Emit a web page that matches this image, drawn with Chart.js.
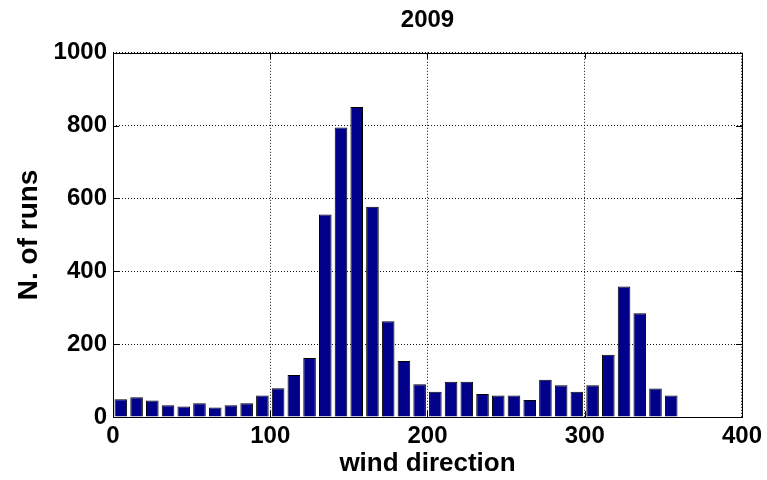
<!DOCTYPE html>
<html>
<head>
<meta charset="utf-8">
<script src="https://cdn.jsdelivr.net/npm/chart.js@4/dist/chart.umd.min.js"></script>
<style>
  html, body { margin: 0; padding: 0; background: #ffffff; }
  #wrap { width: 767px; height: 480px; }
</style>
</head>
<body>
<div id="wrap"><canvas id="chart" width="767" height="480"></canvas></div>
<script>
// Wind direction histogram for 2009: bin centres (degrees) and run counts
const directions = [5, 15, 25, 35, 45, 55, 65, 75, 85, 95,
                    105, 115, 125, 135, 145, 155, 165, 175, 185, 195,
                    205, 215, 225, 235, 245, 255, 265, 275, 285, 295,
                    305, 315, 325, 335, 345, 355];
const runs = [49, 54, 45, 32, 29, 38, 26, 32, 38, 59,
              79, 115, 162, 556, 795, 851, 577, 263, 154, 90,
              69, 97, 97, 63, 59, 59, 47, 102, 87, 69,
              87, 171, 358, 285, 78, 59];
const xTicks = [0, 100, 200, 300, 400];
const yTicks = [0, 200, 400, 600, 800, 1000];

const titleText = '2009';
const xLabel = 'wind direction';
const yLabel = 'N. of runs';

const FONT = "'Liberation Sans', Arial, Helvetica, sans-serif";

// Box around the axes plus short inward tick marks on all four sides
const boxAndTicks = {
  id: 'boxAndTicks',
  afterDatasetsDraw(chart) {
    const { ctx, chartArea: a, scales: { x, y } } = chart;
    const len = 6;
    ctx.save();
    ctx.strokeStyle = '#000';
    ctx.lineWidth = 1;
    ctx.beginPath();
    xTicks.forEach(v => {
      const px = Math.round(x.getPixelForValue(v)) + 0.5;
      ctx.moveTo(px, a.bottom); ctx.lineTo(px, a.bottom - len);
      ctx.moveTo(px, a.top); ctx.lineTo(px, a.top + len);
    });
    yTicks.forEach(v => {
      const py = Math.round(y.getPixelForValue(v)) + 0.5;
      ctx.moveTo(a.left, py); ctx.lineTo(a.left + len, py);
      ctx.moveTo(a.right, py); ctx.lineTo(a.right - len, py);
    });
    ctx.stroke();
    ctx.strokeRect(Math.round(a.left) + 0.5, Math.round(a.top) + 0.5,
                   Math.round(a.right - a.left), Math.round(a.bottom - a.top));
    ctx.restore();
  }
};

new Chart(document.getElementById('chart'), {
  type: 'bar',
  data: {
    datasets: [{
      data: directions.map((d, i) => ({ x: d, y: runs[i] })),
      backgroundColor: '#00008a',
      borderColor: '#000000',
      borderWidth: 1,
      barPercentage: 0.8,
      categoryPercentage: 1.0
    }]
  },
  options: {
    responsive: false,
    animation: false,
    layout: { padding: { left: 0, right: 25, top: 0, bottom: 0 } },
    plugins: {
      legend: { display: false },
      tooltip: { enabled: false },
      title: {
        display: true,
        fullSize: false,
        text: titleText,
        color: '#000',
        font: { family: FONT, size: 24, weight: 'bold' },
        padding: { top: 6, bottom: 18 }
      }
    },
    scales: {
      x: {
        type: 'linear',
        min: 0,
        max: 400,
        offset: false,
        afterFit(scale) { scale.height = 63; },
        afterBuildTicks(scale) { scale.ticks = xTicks.map(v => ({ value: v })); },
        grid: {
          offset: false,
          drawTicks: false,
          color: '#111',
          lineWidth: 1
        },
        border: { display: false, dash: [1, 2] },
        ticks: {
          color: '#000',
          padding: 5,
          maxRotation: 0,
          callback: v => String(v),
          font: { family: FONT, size: 24, weight: 'bold' }
        },
        title: {
          display: true,
          text: xLabel,
          color: '#000',
          font: { family: FONT, size: 26, weight: 'bold' },
          padding: { top: 0, bottom: 1 }
        }
      },
      y: {
        type: 'linear',
        min: 0,
        max: 1000,
        afterFit(scale) { scale.width = 113; },
        afterBuildTicks(scale) { scale.ticks = yTicks.map(v => ({ value: v })); },
        grid: {
          drawTicks: false,
          color: '#111',
          lineWidth: 1
        },
        border: { display: false, dash: [1, 2] },
        ticks: {
          color: '#000',
          padding: 6,
          callback: v => String(v),
          font: { family: FONT, size: 24, weight: 'bold' }
        },
        title: {
          display: true,
          text: yLabel,
          color: '#000',
          font: { family: FONT, size: 28, weight: 'bold' },
          padding: { top: 12, bottom: 0 }
        }
      }
    }
  },
  plugins: [boxAndTicks]
});
</script>
</body>
</html>
